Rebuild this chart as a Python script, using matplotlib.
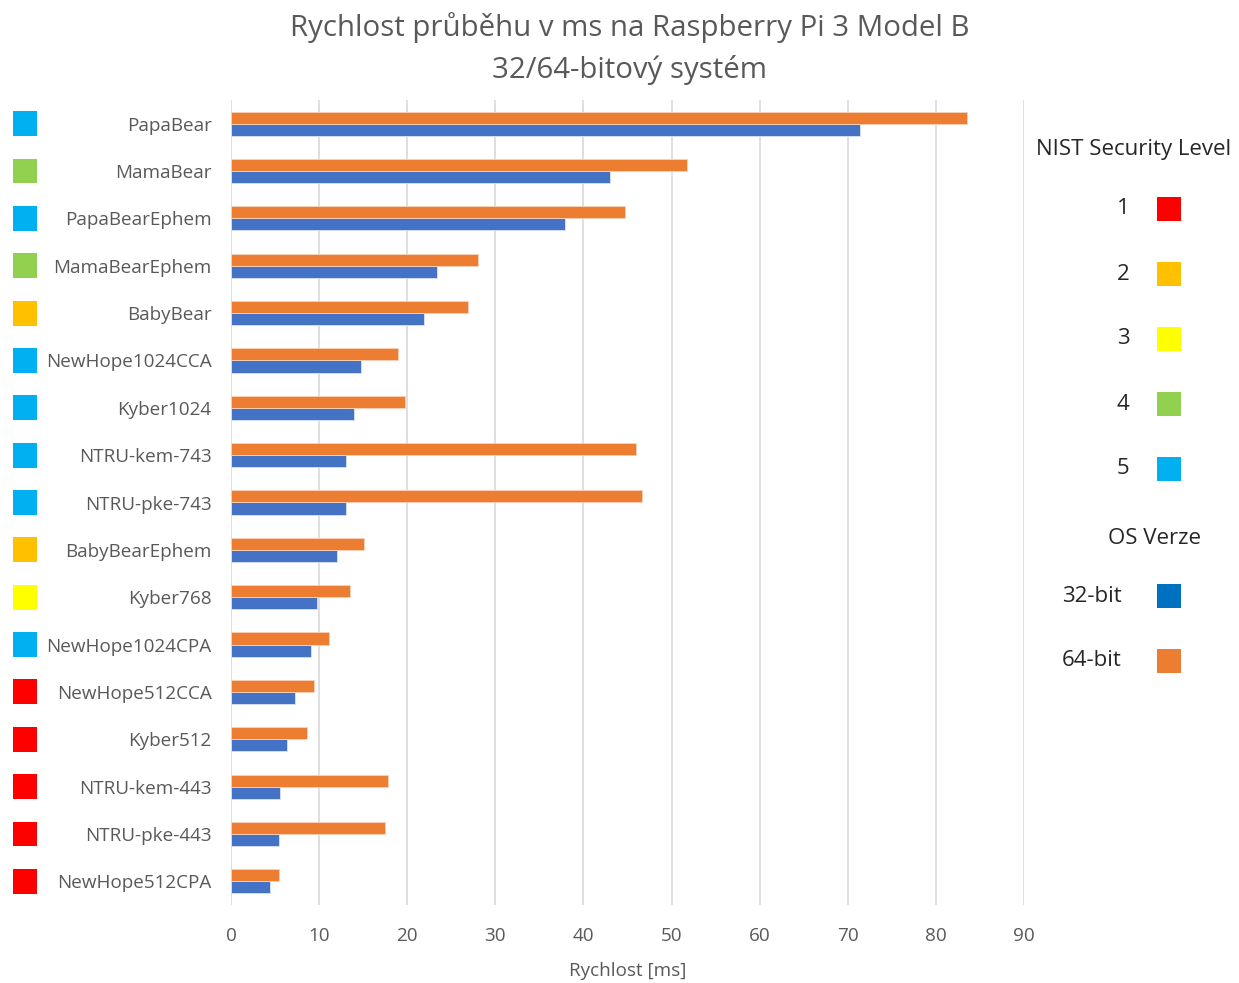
import numpy as np
import matplotlib.pyplot as plt
from matplotlib.transforms import blended_transform_factory

plt.rcParams['font.family'] = ['Open Sans', 'DejaVu Sans']

# data (top -> bottom as in the chart)
algoritmy = ['PapaBear', 'MamaBear', 'PapaBearEphem', 'MamaBearEphem', 'BabyBear',
             'NewHope1024CCA', 'Kyber1024', 'NTRU-kem-743', 'NTRU-pke-743', 'BabyBearEphem',
             'Kyber768', 'NewHope1024CPA', 'NewHope512CCA', 'Kyber512', 'NTRU-kem-443',
             'NTRU-pke-443', 'NewHope512CPA']
rychlost_32 = [71.4, 43.0, 37.9, 23.4, 21.9, 14.8, 14.0, 13.1, 13.1, 12.0,
               9.8, 9.1, 7.3, 6.4, 5.6, 5.4, 4.45]
rychlost_64 = [83.5, 51.8, 44.7, 28.0, 26.9, 19.0, 19.8, 46.0, 46.7, 15.1,
               13.5, 11.1, 9.4, 8.6, 17.8, 17.5, 5.4]
nist_level = [5, 4, 5, 4, 2, 5, 5, 5, 5, 2, 3, 5, 1, 1, 1, 1, 1]
level_barvy = {1: '#FF0000', 2: '#FFC000', 3: '#FFFF00', 4: '#92D050', 5: '#00B0F0'}

seda = '#595959'
modra = '#4472C4'
oranz = '#ED7D31'

fig = plt.figure(figsize=(12.39, 9.83), dpi=100)
ax = fig.add_axes([231/1239, 1 - 905/983, (1024-231)/1239, (905-100)/983])

n = len(algoritmy)
y = np.arange(n)
h = 0.255
ax.barh(y + h/2, rychlost_32, height=h, color=modra, edgecolor='#dbe4f5', linewidth=0.6, zorder=3)
ax.barh(y - h/2, rychlost_64, height=h, color=oranz, edgecolor='#f8d3bb', linewidth=0.6, zorder=3)

ax.set_ylim(n - 0.5, -0.5)
ax.set_xlim(0, 90)
ax.set_xticks(np.arange(0, 91, 10))
ax.set_yticks(y)
ax.set_yticklabels(algoritmy)
ax.tick_params(axis='y', length=0, pad=14, labelsize=13.6, labelcolor=seda)
ax.tick_params(axis='x', length=0, pad=16, labelsize=13.6, labelcolor=seda)
ax.grid(axis='x', color='#d9d9d9', linewidth=1.2, zorder=0)
for s in ax.spines.values():
    s.set_visible(False)
ax.set_xlabel('Rychlost [ms]', fontsize=13.6, color=seda, labelpad=12)

# barevne ctverce NIST urovne vlevo
tr = blended_transform_factory(fig.transFigure, ax.transData)
ax.scatter([25/1239]*n, y, s=320, marker='s', c=[level_barvy[l] for l in nist_level],
           transform=tr, clip_on=False, linewidths=0, zorder=4)

fig.text(630/1239, 1 - 28/983, 'Rychlost průběhu v ms na Raspberry Pi 3 Model B',
         ha='center', va='center', fontsize=21.2, color=seda)
fig.text(630/1239, 1 - 70/983, '32/64-bitový systém',
         ha='center', va='center', fontsize=21.2, color=seda)

# legenda vpravo (v pixelech)
lg = fig.add_axes([0, 0, 1, 1])
lg.set_xlim(0, 1239)
lg.set_ylim(983, 0)
lg.axis('off')
fs = 16
lg.text(1134, 150, 'NIST Security Level', ha='center', va='center', fontsize=fs, color='#262626')
for i, l in enumerate([1, 2, 3, 4, 5]):
    yy = 209 + i*65
    lg.text(1123, yy, str(l), ha='center', va='center', fontsize=fs, color='#262626')
    lg.scatter([1169], [yy], s=320, marker='s', color=level_barvy[l], linewidths=0)
lg.text(1155, 538, 'OS Verze', ha='center', va='center', fontsize=fs, color='#262626')
for yy, txt, c in [(596, '32-bit', '#0070C0'), (661, '64-bit', oranz)]:
    lg.text(1092, yy, txt, ha='center', va='center', fontsize=fs, color='#262626')
    lg.scatter([1169], [yy], s=320, marker='s', color=c, linewidths=0)

fig.savefig('out.png', dpi=100)
